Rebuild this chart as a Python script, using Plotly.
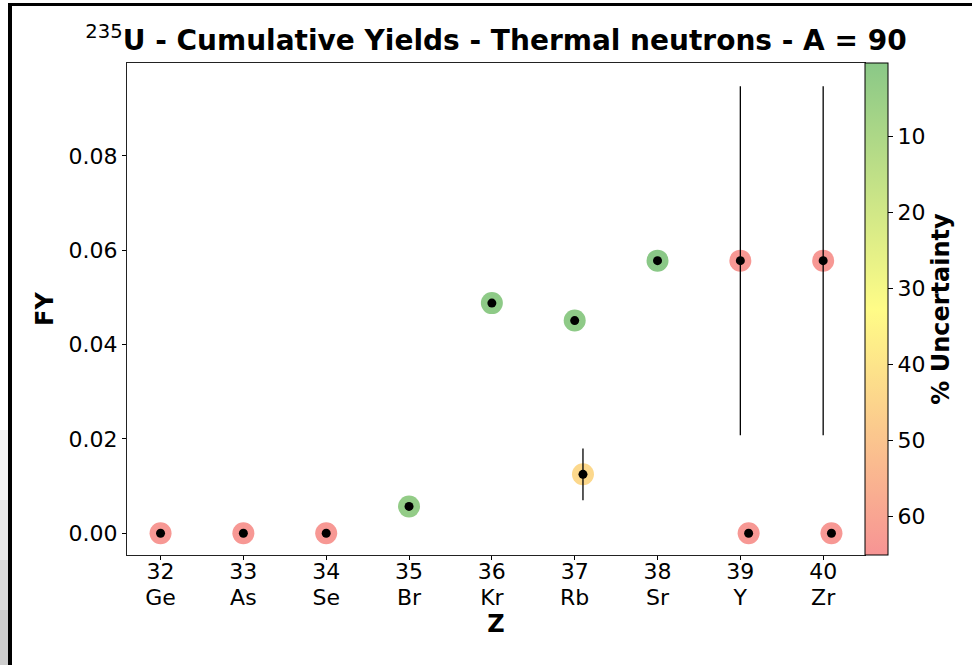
import plotly.graph_objects as go

# ---- data ----
z_numbers = [32, 33, 34, 35, 36, 37, 37, 38, 39, 39, 40, 40]
isomeric_state = [0, 0, 0, 0, 0, 0, 1, 0, 0, 1, 0, 1]
fission_yield = [0.0, 0.0, 0.0, 0.0057, 0.0488, 0.0451, 0.0125, 0.0578, 0.0578, 0.0, 0.0578, 0.0]
uncertainty_pct = [64, 64, 64, 2.8, 1.4, 1.4, 44, 0.4, 64, 64, 64, 64]

tick_z = [32, 33, 34, 35, 36, 37, 38, 39, 40]
tick_symbols = ["Ge", "As", "Se", "Br", "Kr", "Rb", "Sr", "Y", "Zr"]

cbar_ticks = [10, 20, 30, 40, 50, 60]
cbar_min, cbar_max = 0.4, 65.1

# ---- derived ----
x_pos = [z + 0.1 * s for z, s in zip(z_numbers, isomeric_state)]
err = [y * u / 100.0 for y, u in zip(fission_yield, uncertainty_pct)]
neg_unc = [-u for u in uncertainty_pct]

FONT = "DejaVu Sans"
W, H = 972, 665
L, R, T, B = 127, 107, 63, 110
PW, PH = W - L - R, H - T - B
XRANGE = [31.595, 40.505]


def px(x):
    return (x - L) / PW


def py(y):
    return 1 - (y - T) / PH


colorscale = [
    [0.0, "rgb(247,148,148)"],
    [0.5, "rgb(255,252,135)"],
    [1.0, "rgb(138,200,135)"],
]

fig = go.Figure()

fig.add_trace(go.Scatter(
    x=x_pos, y=fission_yield, mode="markers",
    marker=dict(
        size=22, color=neg_unc, colorscale=colorscale,
        cmin=-cbar_max, cmax=-cbar_min, line=dict(width=0),
        showscale=True,
        colorbar=dict(
            x=1.0, xanchor="left", xref="paper", y=0.5, yanchor="middle",
            len=1.0, lenmode="fraction", thickness=23, thicknessmode="pixels",
            outlinecolor="black", outlinewidth=1, xpad=0, ypad=0,
            tickvals=[-t for t in cbar_ticks], ticktext=[str(t) for t in cbar_ticks],
            ticks="outside", ticklen=5, tickcolor="black",
            tickfont=dict(family=FONT, size=22, color="black"),
            title=dict(text="<b>% Uncertainty</b>", side="right",
                       font=dict(family=FONT, size=24, color="black")),
        ),
    ),
    hoverinfo="skip", showlegend=False,
))

fig.add_trace(go.Scatter(
    x=x_pos, y=fission_yield, mode="markers",
    marker=dict(size=9, color="black"),
    error_y=dict(type="data", array=err, visible=True, color="black",
                 thickness=1.3, width=0),
    showlegend=False,
))

# helper trace so the element-symbol axis is drawn
fig.add_trace(go.Scatter(x=tick_z, y=[None] * len(tick_z), xaxis="x2",
                         mode="markers", showlegend=False, hoverinfo="skip"))

fig.update_layout(
    width=W, height=H,
    margin=dict(l=L, r=R, t=T, b=B, pad=0),
    paper_bgcolor="white", plot_bgcolor="white",
    font=dict(family=FONT, color="black"),
    title=dict(
        text="<sup>235</sup><b>U - Cumulative Yields - Thermal neutrons - A = 90</b>",
        x=0.5, xref="paper", xanchor="center",
        y=1 - 40 / H, yref="container", yanchor="middle",
        font=dict(family=FONT, size=28, color="black", weight="normal"),
    ),
    xaxis=dict(
        range=XRANGE, tickvals=tick_z, ticktext=[str(z) for z in tick_z],
        ticks="outside", ticklen=4, tickcolor="black",
        tickfont=dict(family=FONT, size=22, color="black"),
        ticklabelstandoff=-7,
        showgrid=False, zeroline=False, showline=True, linecolor="#222",
        linewidth=1, mirror=True,
    ),
    xaxis2=dict(
        range=XRANGE, overlaying="x", anchor="y", side="bottom",
        tickvals=tick_z, ticktext=tick_symbols, ticks="",
        tickfont=dict(family=FONT, size=22, color="black"),
        ticklabelstandoff=27,
        showgrid=False, zeroline=False, showline=False,
        title=dict(text="<b>Z</b>", font=dict(family=FONT, size=24, color="black"),
                   standoff=0),
    ),
    yaxis=dict(
        range=[-0.0046, 0.0997], tickvals=[0, 0.02, 0.04, 0.06, 0.08],
        tickformat=".2f",
        ticks="outside", ticklen=4, tickcolor="black",
        tickfont=dict(family=FONT, size=22, color="black"),
        showgrid=False, zeroline=False, showline=True, linecolor="#222",
        linewidth=1, mirror=True,
        title=dict(text="<b>FY</b>", font=dict(family=FONT, size=24, color="black"),
                   standoff=8),
    ),
)

# window-like frame of the screenshot
shapes = []
for y0, g in [(430, 245), (500, 232), (560, 218), (610, 205)]:
    shapes.append(dict(type="rect", xref="paper", yref="paper",
                       x0=px(0), x1=px(8), y0=py(H), y1=py(y0),
                       fillcolor=f"rgb({g},{g},{g})", line=dict(width=0), layer="below"))
shapes.append(dict(type="rect", xref="paper", yref="paper",
                   x0=px(8), x1=px(12), y0=py(H), y1=py(3),
                   fillcolor="black", line=dict(width=0)))
shapes.append(dict(type="rect", xref="paper", yref="paper",
                   x0=px(8), x1=px(W), y0=py(6), y1=py(3),
                   fillcolor="black", line=dict(width=0)))
fig.update_layout(shapes=shapes)

fig.write_html("out.html")
